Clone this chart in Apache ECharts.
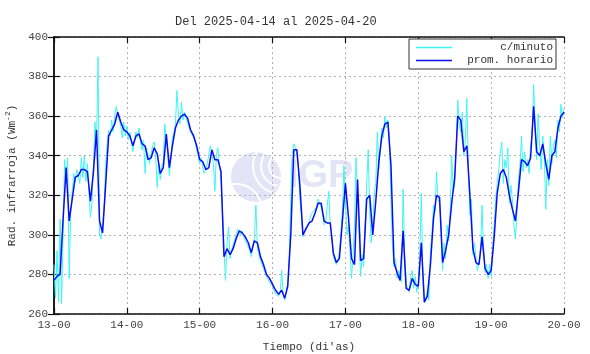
<!DOCTYPE html>
<html>
<head>
<meta charset="utf-8">
<script src="https://cdn.jsdelivr.net/npm/echarts@6/dist/echarts.min.js"></script>
<style>
html, body { margin: 0; padding: 0; background: #fff; }
#chart { width: 590px; height: 354px; }
</style>
</head>
<body>
<div id="chart"></div>
<script>
// etiquetas del eje x (una por dia, cada 24 h)
const dayLabels = ['13-00', '14-00', '15-00', '16-00', '17-00', '18-00', '19-00', '20-00']

// promedio horario (h = 0 .. 168 desde 13-00)
const hourly = [
    277, 279, 280, 308, 334, 307, 318, 329, 330, 333, 333, 332, 317, 332, 353, 307, 301, 325, 350, 353, 356, 362, 357, 353,
    352, 350, 345, 350, 351, 346, 345, 338, 339, 344, 341, 331, 334, 351, 334, 345, 354, 358, 360, 361, 359, 353, 350, 345,
    338, 337, 333, 334, 343, 338, 338, 332, 289, 293, 290, 293, 298, 302, 301, 299, 296, 291, 297, 296, 289, 285, 280, 278,
    275, 272, 270, 272, 268, 274, 300, 343, 343, 325, 300, 303, 306, 307, 311, 316, 316, 307, 306, 306, 291, 286, 288, 307,
    326, 309, 288, 285, 328, 287, 288, 318, 320, 300, 317, 337, 350, 356, 357, 335, 286, 281, 277, 302, 273, 272, 278, 275,
    274, 296, 266, 269, 285, 308, 320, 319, 286, 292, 300, 316, 329, 360, 358, 342, 345, 320, 293, 286, 285, 299, 283, 280,
    282, 299, 321, 331, 333, 329, 320, 313, 307, 322, 338, 337, 335, 339, 365, 342, 340, 346, 336, 328, 340, 342, 354, 360,
    362
]

// c/minuto, leido cada media hora (h = 0, 0.5, 1, ...)
const perMinute = [
    285, 268, 292, 266, 308, 265, 300, 338, 326, 339, 278, 312, 322, 331, 327, 333, 334, 326, 339, 329, 340, 327, 336, 322,
    309, 316, 336, 357, 346, 390, 300, 298, 299, 312, 335, 346, 353, 350, 358, 352, 360, 365, 364, 358, 355, 349, 357, 350,
    355, 348, 352, 347, 342, 348, 352, 349, 354, 347, 343, 348, 331, 344, 340, 336, 341, 345, 347, 340, 324, 336, 328, 335,
    337, 356, 348, 340, 330, 338, 349, 352, 356, 373, 360, 356, 367, 358, 362, 359, 357, 354, 352, 351, 349, 347, 343, 340,
    336, 339, 334, 331, 331, 336, 337, 345, 341, 336, 322, 341, 344, 335, 330, 312, 292, 277, 296, 304, 288, 292, 295, 296,
    300, 303, 304, 300, 302, 299, 297, 298, 294, 292, 289, 295, 298, 315, 293, 290, 287, 286, 283, 282, 279, 278, 276, 276,
    274, 273, 270, 271, 269, 271, 282, 270, 267, 271, 276, 290, 318, 341, 346, 344, 341, 334, 318, 310, 299, 301, 304, 305,
    305, 310, 309, 312, 313, 314, 318, 319, 314, 310, 305, 307, 308, 322, 305, 300, 289, 287, 285, 287, 291, 300, 312, 335,
    318, 300, 305, 292, 278, 290, 306, 339, 320, 300, 279, 290, 284, 305, 325, 343, 312, 296, 305, 322, 326, 352, 333, 344,
    354, 349, 360, 354, 358, 347, 318, 294, 284, 288, 278, 282, 283, 276, 323, 290, 275, 276, 271, 279, 282, 273, 279, 271,
    276, 290, 321, 280, 266, 268, 272, 267, 292, 300, 315, 312, 332, 318, 316, 305, 282, 296, 288, 305, 297, 312, 340, 322,
    325, 345, 368, 355, 352, 362, 340, 348, 369, 333, 310, 318, 290, 296, 289, 282, 287, 290, 315, 294, 281, 285, 278, 285,
    279, 292, 305, 318, 326, 333, 341, 347, 326, 338, 334, 344, 316, 325, 318, 305, 298, 311, 328, 335, 350, 332, 342, 334,
    338, 331, 345, 350, 376, 355, 338, 361, 344, 333, 350, 340, 313, 338, 325, 350, 336, 345, 348, 339, 358, 352, 366, 359,
    364
]

const yMin = 260
const yMax = 400

const font = 'Liberation Mono'
const chart = echarts.init(document.getElementById('chart'))

const axisLineStyle = { color: '#111', width: 1.5 }

const option = {
    animation: false,
    title: {
        text: 'Del 2025-04-14 al 2025-04-20',
        left: 170,
        top: 11,
        textStyle: { fontFamily: font, fontSize: 12, fontWeight: 'normal', color: '#333' }
    },
    grid: { left: 54, right: 26, top: 37, bottom: 40, outerBoundsMode: 'none', containLabel: false },
    legend: {
        left: 409,
        top: 39,
        orient: 'vertical',
        padding: [3, 3, 3, 7],
        itemGap: 2,
        icon: 'rect',
        itemWidth: 36,
        itemHeight: 1.5,
        borderColor: '#333',
        borderWidth: 1,
        backgroundColor: '#fff',
        formatter: name => '{r|' + name + '}',
        textStyle: {
            fontFamily: font, fontSize: 11, color: '#333',
            rich: { r: { fontFamily: font, fontSize: 11, color: '#333', width: 96, align: 'right' } }
        },
        data: ['c/minuto', 'prom. horario']
    },
    graphic: [
        // marca de agua IGP
        { type: 'circle', z: -1, shape: { cx: 256, cy: 177, r: 25 }, style: { fill: '#e3e5f6' } },
        { type: 'arc', z: -1, shape: { cx: 281, cy: 166, r: 12, startAngle: Math.PI * 0.5, endAngle: Math.PI * 1.4 }, style: { stroke: '#fff', lineWidth: 2, fill: 'none' } },
        { type: 'arc', z: -1, shape: { cx: 281, cy: 166, r: 20, startAngle: Math.PI * 0.55, endAngle: Math.PI * 1.35 }, style: { stroke: '#fff', lineWidth: 2, fill: 'none' } },
        { type: 'arc', z: -1, shape: { cx: 281, cy: 166, r: 28, startAngle: Math.PI * 0.6, endAngle: Math.PI * 1.3 }, style: { stroke: '#fff', lineWidth: 2, fill: 'none' } },
        { type: 'arc', z: -1, shape: { cx: 236, cy: 210, r: 26, startAngle: Math.PI * 1.45, endAngle: Math.PI * 1.95 }, style: { stroke: '#fff', lineWidth: 2, fill: 'none' } },
        { type: 'text', z: -1, left: 288, top: 158, style: { text: 'IGP', fill: '#e3e5f6', font: 'bold 38px "Liberation Sans"' } }
    ],
    xAxis: [
        {
            type: 'value',
            min: 0,
            max: 168,
            interval: 24,
            name: "Tiempo (di'as)",
            nameLocation: 'middle',
            nameGap: 28,
            nameTextStyle: { fontFamily: font, fontSize: 11, color: '#333' },
            axisLine: { lineStyle: axisLineStyle },
            axisTick: { inside: true, length: 6, lineStyle: { color: '#111', width: 1.2 } },
            axisLabel: {
                fontFamily: font, fontSize: 11, color: '#444', margin: 6,
                formatter: v => dayLabels[Math.round(v / 24)]
            },
            splitLine: { show: true, lineStyle: { color: '#b0b0b0', type: [2, 3], width: 1 } }
        },
        {
            type: 'value',
            position: 'top',
            min: 0,
            max: 168,
            interval: 24,
            axisLine: { lineStyle: axisLineStyle },
            axisTick: { inside: true, length: 6, lineStyle: { color: '#111', width: 1.2 } },
            axisLabel: { show: false },
            splitLine: { show: false }
        }
    ],
    yAxis: [
        {
            type: 'value',
            min: yMin,
            max: yMax,
            interval: 20,
            name: 'Rad. infrarroja (Wm{sup|-2})',
            nameLocation: 'middle',
            nameGap: 32,
            nameTextStyle: {
                fontFamily: font, fontSize: 11, color: '#333',
                rich: { sup: { fontFamily: font, fontSize: 8, color: '#333', padding: [0, 0, 7, 0] } }
            },
            axisLine: { show: true, lineStyle: axisLineStyle },
            axisTick: { show: true, inside: true, length: 6, lineStyle: { color: '#111', width: 1.2 } },
            axisLabel: { fontFamily: font, fontSize: 11, color: '#444', margin: 6 },
            splitLine: { show: true, lineStyle: { color: '#b0b0b0', type: [2, 3], width: 1 } }
        },
        {
            type: 'value',
            position: 'right',
            min: yMin,
            max: yMax,
            interval: 20,
            axisLine: { show: true, lineStyle: axisLineStyle },
            axisTick: { show: true, inside: true, length: 6, lineStyle: { color: '#111', width: 1.2 } },
            axisLabel: { show: false },
            splitLine: { show: false }
        }
    ],
    series: [
        {
            name: 'c/minuto',
            type: 'line',
            symbol: 'none',
            color: '#40f4f4',
            lineStyle: { width: 1, color: '#40f4f4' },
            data: perMinute.map((v, i) => [i * 0.5, v])
        },
        {
            name: 'prom. horario',
            type: 'line',
            symbol: 'none',
            color: '#0b0bf5',
            lineStyle: { width: 1.5, color: '#0b0bf5' },
            data: hourly.map((v, i) => [i, v])
        }
    ]
}

chart.setOption(option)
</script>
</body>
</html>
